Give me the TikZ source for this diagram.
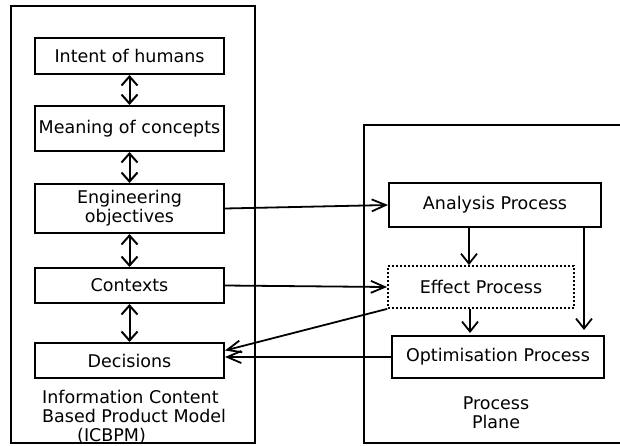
\documentclass[tikz,border=0pt]{standalone}
\usepackage{fontspec}
\setmainfont{DejaVu Sans}
\usetikzlibrary{arrows.meta}
\begin{document}
\begin{tikzpicture}[x=1pt,y=-1pt,
  every node/.style={font=\fontsize{17.5}{19}\selectfont, inner sep=0pt},
  boxa/.style={draw, line width=2pt, minimum width=189pt, align=center},
  procbox/.style={draw, line width=2pt, align=center},
  frame/.style={draw, line width=2pt},
  hbarb/.style={-{Straight Barb[length=14pt,width=12pt,line width=1.8pt]}, line width=1.8pt},
  vbarb/.style={-{Straight Barb[length=10pt,width=16pt,line width=1.8pt]}, line width=1.8pt},
  dbarb/.style={{Straight Barb[length=9pt,width=16pt,line width=2pt]}-{Straight Barb[length=9pt,width=16pt,line width=2pt]}, line width=2pt}]
\useasboundingbox (0,0) rectangle (620,445);
\clip (0,0) rectangle (620,445);
\fill[white] (0,0) rectangle (620,445);
% containers
\draw[frame] (11,6) rectangle (255,443);
\draw[frame] (364,125) rectangle (660,443);
% left boxes
\node[boxa, minimum height=36pt] (int) at (129.5,56) {Intent of humans};
\node[boxa, minimum height=45pt] (mea) at (129.5,128.5) {Meaning of concepts};
\node[boxa, minimum height=49pt] (eng) at (129.5,208.5) {Engineering\\objectives};
\node[boxa, minimum height=35pt] (con) at (129.5,285.5) {Contexts};
\node[boxa, minimum height=35pt] (dec) at (129.5,360.5) {Decisions};
\node[align=left, anchor=north west] (icb) at (42,390) {Information Content\\Based Product Model\\\hspace*{35pt}(ICBPM)};
% right boxes
\node[procbox, minimum width=212pt, minimum height=44pt] (ana) at (495,205) {Analysis Process};
\node[procbox, dotted, dash pattern=on 2pt off 2pt, line width=1.8pt, minimum width=186pt, minimum height=42pt] (eff) at (481,287) {Effect Process};
\node[procbox, minimum width=212pt, minimum height=42pt] (opt) at (498,357) {Optimisation Process};
\node[align=center] (pp) at (496,413) {Process\\Plane};
% double arrows
\draw[dbarb] (int.south) -- (mea.north);
\draw[dbarb] (mea.south) -- (eng.north);
\draw[dbarb] (eng.south) -- (con.north);
\draw[dbarb] (con.south) -- (dec.north);
% connectors
\draw[hbarb] (eng.east) -- (ana.west);
\draw[hbarb] (con.east) -- (eff.west);
\draw[vbarb] ([xshift=-26pt]ana.south) -- ([xshift=-26pt]ana.south |- eff.north);
\draw[vbarb, shorten >=2pt] ([xshift=-11pt]eff.south) -- ([xshift=-11pt]eff.south |- opt.north);
\draw[vbarb, shorten >=5pt] ([xshift=89pt]ana.south) -- ([xshift=89pt]ana.south |- opt.north);
\draw[hbarb] (eff.south west) -- ([yshift=10pt]dec.east);
\draw[hbarb] (opt.west) -- (opt.west -| dec.east);
\end{tikzpicture}
\end{document}
